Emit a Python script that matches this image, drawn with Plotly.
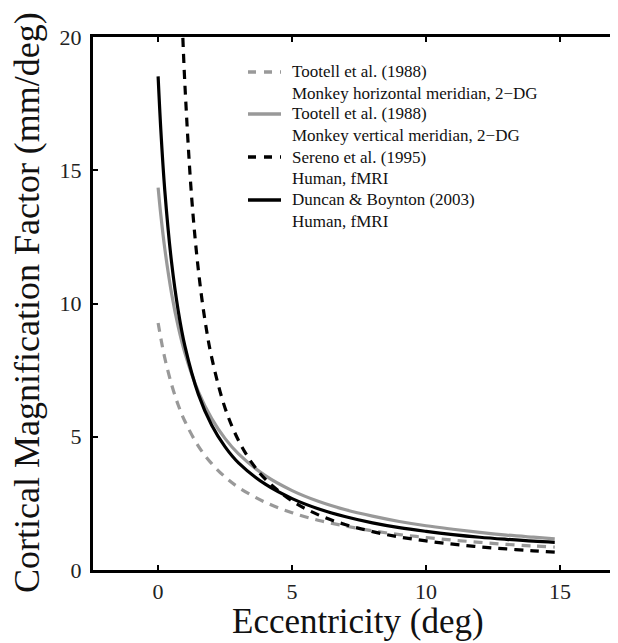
import plotly.graph_objects as go

# Eccentricity sample positions (deg)
ecc = [0, 0.1, 0.25, 0.5, 0.75, 1, 1.5, 2, 2.5, 3, 4, 5, 6, 7, 8, 9, 10, 11, 12, 13, 14, 14.8]

# Tootell et al. (1988) monkey horizontal meridian (mm/deg)
tootell_h = [9.27, 8.70, 7.95, 6.97, 6.19, 5.58, 4.65, 3.99, 3.49, 3.10, 2.54, 2.15,
             1.86, 1.65, 1.47, 1.33, 1.22, 1.12, 1.04, 0.96, 0.90, 0.86]
# Tootell et al. (1988) monkey vertical meridian
tootell_v = [14.35, 13.33, 12.05, 10.39, 9.13, 8.14, 6.69, 5.68, 4.93, 4.36, 3.54, 2.98,
             2.57, 2.26, 2.02, 1.82, 1.66, 1.53, 1.41, 1.31, 1.23, 1.17]
# Duncan & Boynton (2003) human fMRI
duncan = [18.52, 16.53, 14.23, 11.56, 9.73, 8.40, 6.60, 5.43, 4.62, 4.02, 3.22, 2.68,
          2.29, 2.00, 1.77, 1.59, 1.45, 1.33, 1.23, 1.15, 1.08, 1.04]

# Sereno et al. (1995) human fMRI
ecc_sereno = [0.9, 1.0, 1.25, 1.5, 1.75, 2, 2.5, 3, 3.5, 4, 5, 6, 7, 8, 9, 10, 11, 12, 13, 14, 14.8]
sereno = [20.57, 18.20, 14.00, 11.27, 9.36, 7.97, 6.07, 4.86, 4.02, 3.41, 2.59, 2.06,
          1.70, 1.44, 1.24, 1.09, 0.97, 0.87, 0.79, 0.72, 0.67]

x_ticks = [0, 5, 10, 15]
y_ticks = [0, 5, 10, 15, 20]

legend_rows = [
    ("Tootell et al. (1988)", "Monkey horizontal meridian, 2\u2212DG"),
    ("Tootell et al. (1988)", "Monkey vertical meridian, 2\u2212DG"),
    ("Sereno et al. (1995)", "Human, fMRI"),
    ("Duncan & Boynton (2003)", "Human, fMRI"),
]

GRAY = "#999999"
BLACK = "#000000"
FONT = "Liberation Serif"
DASH = "9px,7px"

styles = [
    (GRAY, DASH),
    (GRAY, "solid"),
    (BLACK, DASH),
    (BLACK, "solid"),
]

fig = go.Figure()
fig.add_trace(go.Scatter(x=ecc, y=tootell_h, mode="lines", line_shape="spline",
                         line=dict(color=GRAY, width=3.2, dash=DASH), showlegend=False))
fig.add_trace(go.Scatter(x=ecc, y=tootell_v, mode="lines", line_shape="spline",
                         line=dict(color=GRAY, width=3.2), showlegend=False))
fig.add_trace(go.Scatter(x=ecc, y=duncan, mode="lines", line_shape="spline",
                         line=dict(color=BLACK, width=3.2), showlegend=False))
fig.add_trace(go.Scatter(x=ecc_sereno, y=sereno, mode="lines", line_shape="spline",
                         line=dict(color=BLACK, width=3.2, dash=DASH), showlegend=False))

# page pixels (browser body has an 8px margin)
OFF = 8
L, R, T, B = 93, 618, 37, 570      # plot area in window pixels
W, H = 618 - OFF, 643 - OFF         # figure size


def px(xp):
    return (xp - L) / (R - L)


def py(yp):
    return (B - yp) / (B - T)


# manual legend
first_line_y = [72, 114, 157, 200]
for (title, sub), (col, dash), yy in zip(legend_rows, styles, first_line_y):
    fig.add_shape(type="line", xref="paper", yref="paper",
                  x0=px(248), x1=px(281), y0=py(yy), y1=py(yy),
                  line=dict(color=col, width=3.5, dash=("8px,8px" if dash != "solid" else "solid")))
    fig.add_annotation(xref="paper", yref="paper", x=px(290), y=py(yy), text=title,
                       showarrow=False, xanchor="left", yanchor="middle",
                       font=dict(family=FONT, size=17, color="#111"))
    fig.add_annotation(xref="paper", yref="paper", x=px(290), y=py(yy + 21.5), text=sub,
                       showarrow=False, xanchor="left", yanchor="middle",
                       font=dict(family=FONT, size=17, color="#111"))

# axis titles
fig.add_annotation(xref="paper", yref="paper", x=px(358), y=py(621),
                   text="Eccentricity (deg)", showarrow=False,
                   xanchor="center", yanchor="middle",
                   font=dict(family=FONT, size=35, color="#111"))
fig.add_annotation(xref="paper", yref="paper", x=px(27), y=py(303),
                   text="Cortical Magnification Factor (mm/deg)", showarrow=False,
                   textangle=-90, xanchor="center", yanchor="middle",
                   font=dict(family=FONT, size=36, color="#111"))

fig.update_layout(
    width=W, height=H, autosize=False,
    margin=dict(l=L - OFF, r=0, t=T - OFF, b=H - (B - OFF), pad=0),
    paper_bgcolor="white", plot_bgcolor="white",
    showlegend=False,
    xaxis=dict(range=[-2.43, 17.16], tickvals=x_ticks, ticktext=[str(v) for v in x_ticks],
               showgrid=False, zeroline=False, showline=True, linecolor="black", linewidth=3,
               mirror="ticks", ticks="inside", ticklen=5, tickwidth=2, tickcolor="black",
               tickfont=dict(family=FONT, size=22, color="#222"), ticklabelstandoff=0),
    yaxis=dict(range=[0, 20], tickvals=y_ticks, ticktext=[str(v) for v in y_ticks],
               showgrid=False, zeroline=False, showline=True, linecolor="black", linewidth=3,
               mirror=False, ticks="inside", ticklen=5, tickwidth=2, tickcolor="black",
               tickfont=dict(family=FONT, size=22, color="#222"), ticklabelstandoff=4),
)

fig.write_html("out.html")
